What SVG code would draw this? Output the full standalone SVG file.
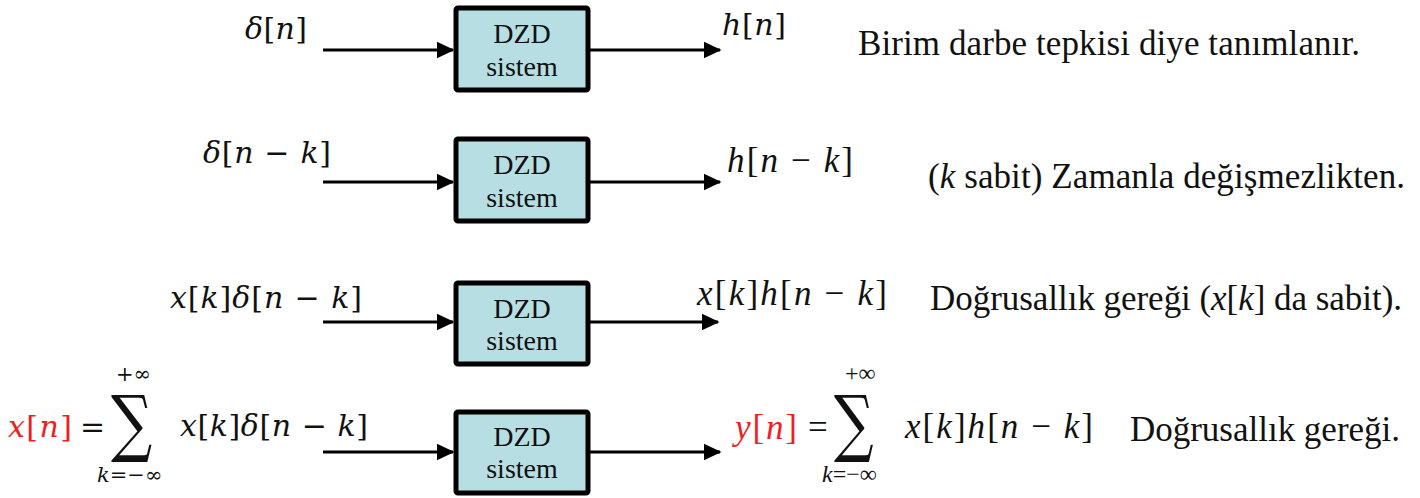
<svg xmlns="http://www.w3.org/2000/svg" width="1420" height="498" viewBox="0 0 1420 498">
<style>
.box{fill:#b7dee2;stroke:#000;stroke-width:5}
.bt{font-family:'Liberation Serif','Times New Roman',serif;font-size:28px;text-anchor:middle;fill:#111}
.cm{font-family:'DejaVu Serif',serif;font-size:30px;fill:#111}
.tm{font-family:'Liberation Serif','Times New Roman',serif;font-size:35px;fill:#111}
.t{font-family:'Liberation Serif','Times New Roman',serif;font-size:35px;fill:#111}
.i{font-style:italic}
.red{fill:#f01e1e}
.sig{font-family:'DejaVu Serif',serif;font-size:74px;fill:#111}
.lim{font-family:'DejaVu Serif',serif;font-size:21px;fill:#111}
.limt{font-family:'Liberation Serif','Times New Roman',serif;font-size:24px;fill:#111}
.c{stroke:#000;stroke-width:3;fill:none;marker-end:url(#ah)}
</style>
<defs>
<marker id="ah" markerWidth="6" markerHeight="6" refX="5.5" refY="3" orient="auto" markerUnits="strokeWidth">
<path d="M0,0.2 L6,3 L0,5.8 z" fill="#000"/>
</marker>
</defs>
<rect width="1420" height="498" fill="#fff"/>
<g id="connectors">
<line class="c" x1="323" y1="50" x2="453" y2="50"/>
<line class="c" x1="590" y1="50" x2="720" y2="50"/>
<line class="c" x1="323" y1="182" x2="453" y2="182"/>
<line class="c" x1="590" y1="182" x2="720" y2="182"/>
<line class="c" x1="323" y1="322" x2="453" y2="322"/>
<line class="c" x1="590" y1="322" x2="718" y2="322"/>
<line class="c" x1="323" y1="452" x2="453" y2="452"/>
<line class="c" x1="590" y1="452" x2="720" y2="452"/>
</g>
<g id="node1">
<rect class="box" x="456" y="8" width="132" height="82" rx="2"/>
<text class="bt" x="522" y="43">DZD</text>
<text class="bt" x="522" y="76">sistem</text>
</g>
<g id="node2">
<rect class="box" x="456" y="139" width="132" height="82" rx="2"/>
<text class="bt" x="522" y="174">DZD</text>
<text class="bt" x="522" y="207">sistem</text>
</g>
<g id="node3">
<rect class="box" x="456" y="283" width="132" height="81" rx="2"/>
<text class="bt" x="522" y="318">DZD</text>
<text class="bt" x="522" y="350">sistem</text>
</g>
<g id="node4">
<rect class="box" x="456" y="412" width="132" height="81" rx="2"/>
<text class="bt" x="522" y="446">DZD</text>
<text class="bt" x="522" y="478">sistem</text>
</g>
<g id="labels">
<text class="cm" x="245" y="39" textLength="62"><tspan class="i">δ</tspan>[<tspan class="i">n</tspan>]</text>
<text class="cm" x="722" y="35" textLength="64"><tspan class="i">h</tspan>[<tspan class="i">n</tspan>]</text>
<text class="t" x="858" y="55" textLength="502">Birim darbe tepkisi diye tanımlanır.</text>

<text class="cm" x="203" y="163" textLength="128"><tspan class="i">δ</tspan>[<tspan class="i">n</tspan> − <tspan class="i">k</tspan>]</text>
<text class="tm" x="727" y="172" textLength="126"><tspan class="i">h</tspan>[<tspan class="i">n</tspan> − <tspan class="i">k</tspan>]</text>
<text class="t" x="928" y="188" textLength="477">(<tspan class="i">k</tspan> sabit) Zamanla değişmezlikten.</text>

<text class="cm" x="170" y="308" textLength="192"><tspan class="i">x</tspan>[<tspan class="i">k</tspan>]<tspan class="i">δ</tspan>[<tspan class="i">n</tspan> − <tspan class="i">k</tspan>]</text>
<text class="tm" x="697" y="305" textLength="190"><tspan class="i">x</tspan>[<tspan class="i">k</tspan>]<tspan class="i">h</tspan>[<tspan class="i">n</tspan> − <tspan class="i">k</tspan>]</text>
<text class="t" x="930" y="310" textLength="472">Doğrusallık gereği (<tspan class="i">x</tspan>[<tspan class="i">k</tspan>] da sabit).</text>

<text class="cm red" x="8" y="437" textLength="64"><tspan class="i">x</tspan>[<tspan class="i">n</tspan>]</text>
<text class="cm" x="80" y="437">=</text>
<text class="sig" transform="translate(111,448) scale(0.78,1)">∑</text>
<text class="lim" x="116" y="381">+∞</text>
<text class="lim" x="97" y="482"><tspan class="i">k</tspan>=−∞</text>
<text class="cm" x="180" y="436" textLength="188"><tspan class="i">x</tspan>[<tspan class="i">k</tspan>]<tspan class="i">δ</tspan>[<tspan class="i">n</tspan> − <tspan class="i">k</tspan>]</text>

<text class="tm red" x="735" y="439" textLength="62"><tspan class="i">y</tspan>[<tspan class="i">n</tspan>]</text>
<text class="tm" x="808" y="439">=</text>
<text class="sig" transform="translate(834,448) scale(0.75,1)">∑</text>
<text class="limt" x="845" y="381">+∞</text>
<text class="limt" x="822" y="482"><tspan class="i">k</tspan>=−∞</text>
<text class="tm" x="905" y="438" textLength="188"><tspan class="i">x</tspan>[<tspan class="i">k</tspan>]<tspan class="i">h</tspan>[<tspan class="i">n</tspan> − <tspan class="i">k</tspan>]</text>
<text class="t" x="1130" y="441" textLength="270">Doğrusallık gereği.</text>
</g>
</svg>
